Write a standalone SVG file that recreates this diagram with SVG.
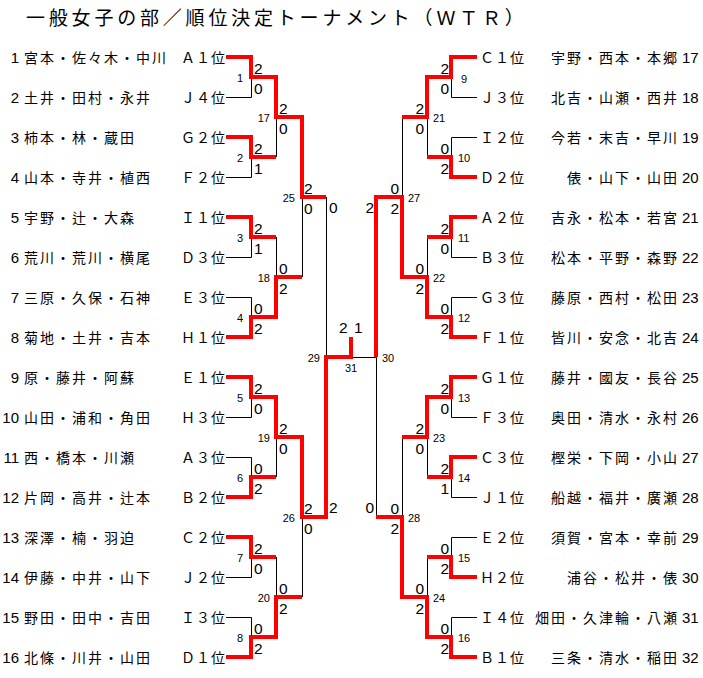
<svg xmlns="http://www.w3.org/2000/svg" width="703" height="678" viewBox="0 0 703 678">
<style>
.title{font-family:"Noto Sans CJK JP","Noto Sans CJK SC",sans-serif;font-size:19px;letter-spacing:3.8px;fill:#000}
.nm{font-family:"Noto Sans CJK JP","Noto Sans CJK SC",sans-serif;font-size:14px;letter-spacing:2px;fill:#000}
.sd{font-family:"Noto Sans CJK JP","Noto Sans CJK SC",sans-serif;font-size:14px;letter-spacing:1px;fill:#000}
.no{font-family:"Liberation Sans",Arial,sans-serif;font-size:15px;fill:#000}
.sc{font-family:"Liberation Sans",Arial,sans-serif;font-size:15.5px;fill:#000}
.mn{font-family:"Liberation Sans",Arial,sans-serif;font-size:11px;fill:#000}
.end{text-anchor:end}
.mid{text-anchor:middle}
.blk{fill:none;stroke:#000;stroke-width:1}
.red{fill:none;stroke:#ff0000;stroke-width:4;stroke-linejoin:miter}
</style>
<rect width="703" height="678" fill="#fff"/>
<text class="title" x="26" y="25">一般女子の部／順位決定トーナメント（ＷＴＲ）</text>

<g id="connectors">
<g class="blk">
<path d="M226 97.5H251.5V77"/>
<path d="M226 177.5H251.5V157"/>
<path d="M226 257.5H251.5V237"/>
<path d="M226 297.5H251.5V317"/>
<path d="M226 417.5H251.5V397"/>
<path d="M226 457.5H251.5V477"/>
<path d="M226 577.5H251.5V557"/>
<path d="M226 617.5H251.5V637"/>
<path d="M276.5 157V117"/>
<path d="M276.5 237V277"/>
<path d="M276.5 477V437"/>
<path d="M276.5 557V597"/>
<path d="M302.5 277V197"/>
<path d="M302.5 597V517"/>
<path d="M326.5 197V357"/>
<path d="M351 357.5H377"/>
<path d="M477 97.5H451.5V77"/>
<path d="M477 137.5H451.5V157"/>
<path d="M477 257.5H451.5V237"/>
<path d="M477 297.5H451.5V317"/>
<path d="M477 417.5H451.5V397"/>
<path d="M477 497.5H451.5V477"/>
<path d="M477 537.5H451.5V557"/>
<path d="M477 617.5H451.5V637"/>
<path d="M427.5 157V117"/>
<path d="M427.5 237V277"/>
<path d="M427.5 477V437"/>
<path d="M427.5 557V597"/>
<path d="M402.5 117V197"/>
<path d="M402.5 437V517"/>
<path d="M376.5 517V357"/>
</g>
<g class="red">
<path d="M226 57H251V77H276V117H302V197H326"/>
<path d="M226 137H251V157H276"/>
<path d="M226 217H251V237H276"/>
<path d="M226 337H251V317H276V277H302"/>
<path d="M226 377H251V397H276V437H302V517H326V357H351V337"/>
<path d="M226 497H251V477H276"/>
<path d="M226 537H251V557H276"/>
<path d="M226 657H251V637H276V597H302"/>
<path d="M477 57H451V77H427V117H402"/>
<path d="M477 177H451V157H427"/>
<path d="M477 217H451V237H427"/>
<path d="M477 337H451V317H427V277H402V197H376V357"/>
<path d="M477 377H451V397H427V437H402"/>
<path d="M477 457H451V477H427"/>
<path d="M477 577H451V557H427"/>
<path d="M477 657H451V637H427V597H402V517H376"/>
</g>
</g>

<g id="entrants-left">
<g id="p1"><text class="no end" x="19" y="63">1</text><text class="nm" x="24" y="63">宮本・佐々木・中川</text><text class="sd end" x="226" y="63">Ａ１位</text></g>
<g id="p2"><text class="no end" x="19" y="103">2</text><text class="nm" x="24" y="103">土井・田村・永井</text><text class="sd end" x="226" y="103">Ｊ４位</text></g>
<g id="p3"><text class="no end" x="19" y="143">3</text><text class="nm" x="24" y="143">柿本・林・蔵田</text><text class="sd end" x="226" y="143">Ｇ２位</text></g>
<g id="p4"><text class="no end" x="19" y="183">4</text><text class="nm" x="24" y="183">山本・寺井・植西</text><text class="sd end" x="226" y="183">Ｆ２位</text></g>
<g id="p5"><text class="no end" x="19" y="223">5</text><text class="nm" x="24" y="223">宇野・辻・大森</text><text class="sd end" x="226" y="223">Ｉ１位</text></g>
<g id="p6"><text class="no end" x="19" y="263">6</text><text class="nm" x="24" y="263">荒川・荒川・横尾</text><text class="sd end" x="226" y="263">Ｄ３位</text></g>
<g id="p7"><text class="no end" x="19" y="303">7</text><text class="nm" x="24" y="303">三原・久保・石神</text><text class="sd end" x="226" y="303">Ｅ３位</text></g>
<g id="p8"><text class="no end" x="19" y="343">8</text><text class="nm" x="24" y="343">菊地・土井・吉本</text><text class="sd end" x="226" y="343">Ｈ１位</text></g>
<g id="p9"><text class="no end" x="19" y="383">9</text><text class="nm" x="24" y="383">原・藤井・阿蘇</text><text class="sd end" x="226" y="383">Ｅ１位</text></g>
<g id="p10"><text class="no end" x="19" y="423">10</text><text class="nm" x="24" y="423">山田・浦和・角田</text><text class="sd end" x="226" y="423">Ｈ３位</text></g>
<g id="p11"><text class="no end" x="19" y="463">11</text><text class="nm" x="24" y="463">西・橋本・川瀬</text><text class="sd end" x="226" y="463">Ａ３位</text></g>
<g id="p12"><text class="no end" x="19" y="503">12</text><text class="nm" x="24" y="503">片岡・高井・辻本</text><text class="sd end" x="226" y="503">Ｂ２位</text></g>
<g id="p13"><text class="no end" x="19" y="543">13</text><text class="nm" x="24" y="543">深澤・楠・羽迫</text><text class="sd end" x="226" y="543">Ｃ２位</text></g>
<g id="p14"><text class="no end" x="19" y="583">14</text><text class="nm" x="24" y="583">伊藤・中井・山下</text><text class="sd end" x="226" y="583">Ｊ２位</text></g>
<g id="p15"><text class="no end" x="19" y="623">15</text><text class="nm" x="24" y="623">野田・田中・吉田</text><text class="sd end" x="226" y="623">Ｉ３位</text></g>
<g id="p16"><text class="no end" x="19" y="663">16</text><text class="nm" x="24" y="663">北條・川井・山田</text><text class="sd end" x="226" y="663">Ｄ１位</text></g>
</g>

<g id="entrants-right">
<g id="p17"><text class="sd" x="480" y="63">Ｃ１位</text><text class="nm end" x="679" y="63">宇野・西本・本郷</text><text class="no" x="682" y="63">17</text></g>
<g id="p18"><text class="sd" x="480" y="103">Ｊ３位</text><text class="nm end" x="679" y="103">北吉・山瀬・西井</text><text class="no" x="682" y="103">18</text></g>
<g id="p19"><text class="sd" x="480" y="143">Ｉ２位</text><text class="nm end" x="679" y="143">今若・末吉・早川</text><text class="no" x="682" y="143">19</text></g>
<g id="p20"><text class="sd" x="480" y="183">Ｄ２位</text><text class="nm end" x="679" y="183">俵・山下・山田</text><text class="no" x="682" y="183">20</text></g>
<g id="p21"><text class="sd" x="480" y="223">Ａ２位</text><text class="nm end" x="679" y="223">吉永・松本・若宮</text><text class="no" x="682" y="223">21</text></g>
<g id="p22"><text class="sd" x="480" y="263">Ｂ３位</text><text class="nm end" x="679" y="263">松本・平野・森野</text><text class="no" x="682" y="263">22</text></g>
<g id="p23"><text class="sd" x="480" y="303">Ｇ３位</text><text class="nm end" x="679" y="303">藤原・西村・松田</text><text class="no" x="682" y="303">23</text></g>
<g id="p24"><text class="sd" x="480" y="343">Ｆ１位</text><text class="nm end" x="679" y="343">皆川・安念・北吉</text><text class="no" x="682" y="343">24</text></g>
<g id="p25"><text class="sd" x="480" y="383">Ｇ１位</text><text class="nm end" x="679" y="383">藤井・國友・長谷</text><text class="no" x="682" y="383">25</text></g>
<g id="p26"><text class="sd" x="480" y="423">Ｆ３位</text><text class="nm end" x="679" y="423">奥田・清水・永村</text><text class="no" x="682" y="423">26</text></g>
<g id="p27"><text class="sd" x="480" y="463">Ｃ３位</text><text class="nm end" x="679" y="463">樫栄・下岡・小山</text><text class="no" x="682" y="463">27</text></g>
<g id="p28"><text class="sd" x="480" y="503">Ｊ１位</text><text class="nm end" x="679" y="503">船越・福井・廣瀬</text><text class="no" x="682" y="503">28</text></g>
<g id="p29"><text class="sd" x="480" y="543">Ｅ２位</text><text class="nm end" x="679" y="543">須賀・宮本・幸前</text><text class="no" x="682" y="543">29</text></g>
<g id="p30"><text class="sd" x="480" y="583">Ｈ２位</text><text class="nm end" x="679" y="583">浦谷・松井・俵</text><text class="no" x="682" y="583">30</text></g>
<g id="p31"><text class="sd" x="480" y="623">Ｉ４位</text><text class="nm end" x="679" y="623">畑田・久津輪・八瀬</text><text class="no" x="682" y="623">31</text></g>
<g id="p32"><text class="sd" x="480" y="663">Ｂ１位</text><text class="nm end" x="679" y="663">三条・清水・稲田</text><text class="no" x="682" y="663">32</text></g>
</g>

<g id="matches-left">
<g id="m1"><text class="mn end" x="243" y="82">1</text><text class="sc" x="254" y="74">2</text><text class="sc" x="254" y="94">0</text></g>
<g id="m2"><text class="mn end" x="243" y="162">2</text><text class="sc" x="254" y="154">2</text><text class="sc" x="254" y="174">1</text></g>
<g id="m3"><text class="mn end" x="243" y="242">3</text><text class="sc" x="254" y="234">2</text><text class="sc" x="254" y="254">1</text></g>
<g id="m4"><text class="mn end" x="243" y="322">4</text><text class="sc" x="254" y="314">0</text><text class="sc" x="254" y="334">2</text></g>
<g id="m5"><text class="mn end" x="243" y="402">5</text><text class="sc" x="254" y="394">2</text><text class="sc" x="254" y="414">0</text></g>
<g id="m6"><text class="mn end" x="243" y="482">6</text><text class="sc" x="254" y="474">0</text><text class="sc" x="254" y="494">2</text></g>
<g id="m7"><text class="mn end" x="243" y="562">7</text><text class="sc" x="254" y="554">2</text><text class="sc" x="254" y="574">0</text></g>
<g id="m8"><text class="mn end" x="243" y="642">8</text><text class="sc" x="254" y="634">0</text><text class="sc" x="254" y="654">2</text></g>
<g id="m17"><text class="mn end" x="270" y="122">17</text><text class="sc" x="279" y="114">2</text><text class="sc" x="279" y="134">0</text></g>
<g id="m18"><text class="mn end" x="270" y="282">18</text><text class="sc" x="279" y="274">0</text><text class="sc" x="279" y="294">2</text></g>
<g id="m19"><text class="mn end" x="270" y="442">19</text><text class="sc" x="279" y="434">2</text><text class="sc" x="279" y="454">0</text></g>
<g id="m20"><text class="mn end" x="270" y="602">20</text><text class="sc" x="279" y="594">0</text><text class="sc" x="279" y="614">2</text></g>
<g id="m25"><text class="mn end" x="295" y="202">25</text><text class="sc" x="304" y="194">2</text><text class="sc" x="304" y="214">0</text></g>
<g id="m26"><text class="mn end" x="295" y="522">26</text><text class="sc" x="304" y="514">2</text><text class="sc" x="304" y="534">0</text></g>
<g id="m29"><text class="mn end" x="320" y="362">29</text><text class="sc" x="329" y="213">0</text><text class="sc" x="329" y="513">2</text></g>
</g>

<g id="matches-right">
<g id="m9"><text class="mn" x="461" y="83">9</text><text class="sc end" x="449" y="74">2</text><text class="sc end" x="449" y="94">0</text></g>
<g id="m10"><text class="mn" x="458" y="162">10</text><text class="sc end" x="449" y="154">0</text><text class="sc end" x="449" y="174">2</text></g>
<g id="m11"><text class="mn" x="458" y="242">11</text><text class="sc end" x="449" y="234">2</text><text class="sc end" x="449" y="254">0</text></g>
<g id="m12"><text class="mn" x="458" y="322">12</text><text class="sc end" x="449" y="314">0</text><text class="sc end" x="449" y="334">2</text></g>
<g id="m13"><text class="mn" x="458" y="402">13</text><text class="sc end" x="449" y="394">2</text><text class="sc end" x="449" y="414">0</text></g>
<g id="m14"><text class="mn" x="458" y="482">14</text><text class="sc end" x="449" y="474">2</text><text class="sc end" x="449" y="494">1</text></g>
<g id="m15"><text class="mn" x="458" y="562">15</text><text class="sc end" x="449" y="554">0</text><text class="sc end" x="449" y="574">2</text></g>
<g id="m16"><text class="mn" x="458" y="642">16</text><text class="sc end" x="449" y="634">0</text><text class="sc end" x="449" y="654">2</text></g>
<g id="m21"><text class="mn" x="433" y="122">21</text><text class="sc end" x="424" y="114">2</text><text class="sc end" x="424" y="134">0</text></g>
<g id="m22"><text class="mn" x="433" y="282">22</text><text class="sc end" x="424" y="274">0</text><text class="sc end" x="424" y="294">2</text></g>
<g id="m23"><text class="mn" x="433" y="442">23</text><text class="sc end" x="424" y="434">2</text><text class="sc end" x="424" y="454">0</text></g>
<g id="m24"><text class="mn" x="433" y="602">24</text><text class="sc end" x="424" y="594">0</text><text class="sc end" x="424" y="614">2</text></g>
<g id="m27"><text class="mn" x="408" y="202">27</text><text class="sc end" x="399" y="194">0</text><text class="sc end" x="399" y="214">2</text></g>
<g id="m28"><text class="mn" x="408" y="522">28</text><text class="sc end" x="399" y="514">0</text><text class="sc end" x="399" y="534">2</text></g>
<g id="m30"><text class="mn" x="382" y="362">30</text><text class="sc end" x="374" y="213">2</text><text class="sc end" x="374" y="513">0</text></g>
</g>

<g id="m31"><text class="sc" x="339" y="333">2</text><text class="sc" x="354" y="333">1</text><text class="mn mid" x="351" y="372">31</text></g>
</svg>
